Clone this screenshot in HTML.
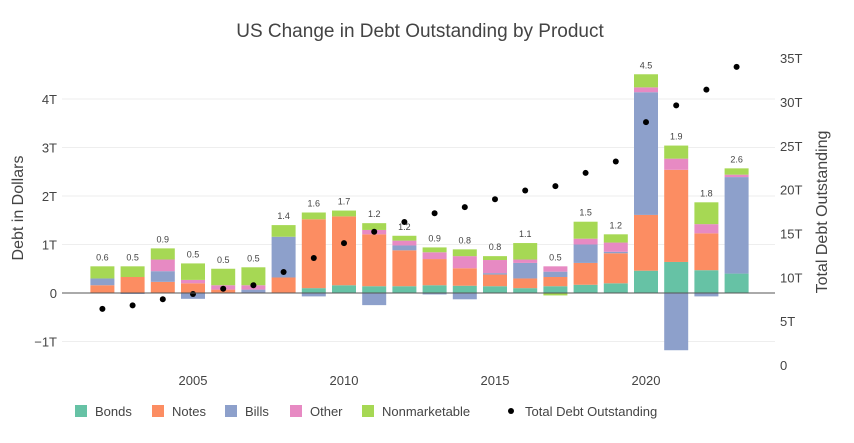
<!DOCTYPE html>
<html><head><meta charset="utf-8"><style>
body{margin:0;background:#fff;font-family:"Liberation Sans",sans-serif;}
svg text{font-family:"Liberation Sans",sans-serif;fill:#444;}
</style></head><body>
<svg id="chart" width="854" height="438">
<text x="420" y="37" font-size="19" text-anchor="middle">US Change in Debt Outstanding by Product</text>
<text transform="translate(23,208) rotate(-90)" font-size="16" text-anchor="middle">Debt in Dollars</text>
<text transform="translate(827,212) rotate(-90)" font-size="16" text-anchor="middle">Total Debt Outstanding</text>
<g id="grid"></g><g id="bars"></g><g id="dots"></g><g id="axes"></g><g id="legend"></g>
</svg>
<script>
const years=[2002,2003,2004,2005,2006,2007,2008,2009,2010,2011,2012,2013,2014,2015,2016,2017,2018,2019,2020,2021,2022,2023];
const bonds=[0,0,0,0,0,0,0,0.1,0.16,0.14,0.14,0.16,0.15,0.14,0.1,0.14,0.17,0.2,0.46,0.64,0.47,0.4];
const notes=[0.16,0.33,0.23,0.2,0.07,0,0.32,1.42,1.42,1.07,0.74,0.54,0.36,0.24,0.2,0.19,0.45,0.62,1.15,1.9,0.76,0];
const bills=[0.14,-0.02,0.22,-0.12,0,0.07,0.84,-0.07,0,-0.25,0.1,-0.03,-0.13,0.03,0.32,0.11,0.38,0.03,2.53,-1.18,-0.07,1.99];
const other=[0,0,0.24,0.07,0.09,0.09,0,0,0,0.09,0.1,0.14,0.25,0.27,0.07,0.11,0.12,0.19,0.1,0.23,0.19,0.05];
const nonmarketable=[0.25,0.22,0.23,0.34,0.34,0.37,0.24,0.14,0.12,0.14,0.1,0.1,0.14,0.08,0.34,-0.05,0.35,0.17,0.27,0.27,0.45,0.13];
const totals=["0.6","0.5","0.9","0.5","0.5","0.5","1.4","1.6","1.7","1.2","1.2","0.9","0.8","0.8","1.1","0.5","1.5","1.2","4.5","1.9","1.8","2.6"];
const totalDebt=[6.4,6.8,7.5,8.1,8.7,9.1,10.6,12.2,13.9,15.2,16.3,17.3,18.0,18.9,19.9,20.4,21.9,23.2,27.7,29.6,31.4,34.0];
const yTicks=[-1,0,1,2,3,4];
const yTickLabels=["−1T","0","1T","2T","3T","4T"];
const y2Ticks=[0,5,10,15,20,25,30,35];
const xTicks=[2005,2010,2015,2020];

const NS="http://www.w3.org/2000/svg";
const X=v=>193+(v-2005)*30.2;
const Y=v=>293-v*48.5;
const Y2=v=>365-v*8.77;
function mk(tag,attrs,parent,text){const e=document.createElementNS(NS,tag);for(const k in attrs)e.setAttribute(k,attrs[k]);if(text!==undefined)e.textContent=text;document.getElementById(parent).appendChild(e);return e;}

yTicks.forEach((t,i)=>{
  if(t!==0){const g=mk('line',{x1:62,x2:775,y1:Y(t),y2:Y(t),stroke:'#eee','stroke-width':1},'grid');
  
  }
  const l=mk('text',{x:57,y:Y(t)+5,'font-size':13,'text-anchor':'end'},'axes',yTickLabels[i]);
  
  
});
y2Ticks.forEach(t=>{
  const l=mk('text',{x:780,y:Y2(t)+5,'font-size':13},'axes',t===0?'0':t+'T');
  
  
});
xTicks.forEach(t=>{
  const l=mk('text',{x:X(t),y:385,'font-size':13,'text-anchor':'middle'},'axes',String(t));
  
  
});
const series=[["bonds",bonds,"#66c2a5"],["notes",notes,"#fc8d62"],["bills",bills,"#8da0cb"],["other",other,"#e78ac3"],["nonmarketable",nonmarketable,"#a6d854"]];
years.forEach((yr,i)=>{
  let pos=0,neg=0;
  series.forEach(([n,arr,c])=>{
    const v=arr[i];if(!v)return;
    let y0,y1;
    if(v>0){y0=pos;y1=pos+v;pos=y1;}else{y0=neg;y1=neg+v;neg=y1;}
    const r=mk('rect',{x:X(yr)-12,width:24,y:Math.min(Y(y0),Y(y1)),height:Math.abs(Y(y0)-Y(y1)),fill:c},'bars');
    
    
  });
  const t=mk('text',{x:X(yr),y:Y(pos)-6,'font-size':9,'text-anchor':'middle'},'bars',totals[i]);
  
  
  const d=mk('circle',{cx:X(yr),cy:Y2(totalDebt[i]),r:3,fill:'#000'},'dots');
  
  
});
const z=mk('line',{x1:62,x2:775,y1:Y(0),y2:Y(0),stroke:'#555','stroke-width':1},'axes');


const leg=[["Bonds","#66c2a5",75],["Notes","#fc8d62",152],["Bills","#8da0cb",225],["Other","#e78ac3",290],["Nonmarketable","#a6d854",362],["Total Debt Outstanding",null,505]];
leg.forEach(([n,c,x])=>{
  const g=mk('g',{},'legend');
  
  
  if(c){const r=document.createElementNS(NS,'rect');r.setAttribute('x',x);r.setAttribute('y',405);r.setAttribute('width',12);r.setAttribute('height',12);r.setAttribute('fill',c);g.appendChild(r);}
  else{const r=document.createElementNS(NS,'circle');r.setAttribute('cx',x+6);r.setAttribute('cy',411);r.setAttribute('r',3);r.setAttribute('fill','#000');g.appendChild(r);}
  const t=document.createElementNS(NS,'text');t.setAttribute('x',x+20);t.setAttribute('y',416);t.setAttribute('font-size',13);t.textContent=n;g.appendChild(t);
});
</script>
</body></html>
